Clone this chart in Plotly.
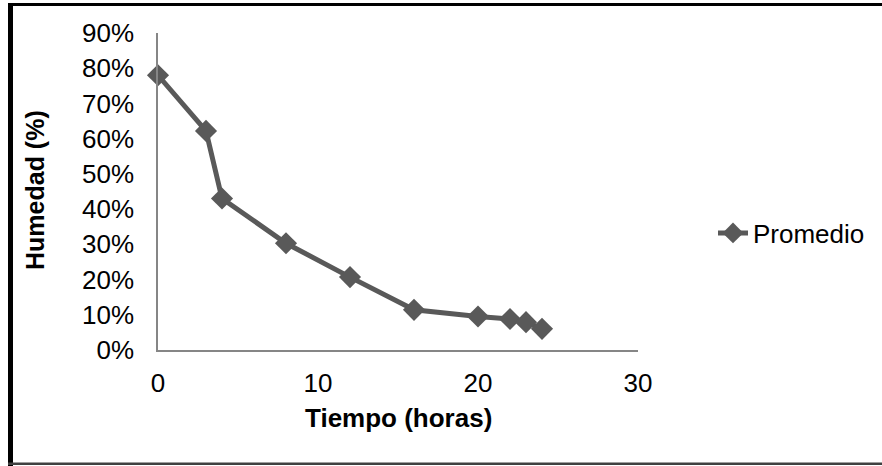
import plotly.graph_objects as go

tiempo = [0, 3, 4, 8, 12, 16, 20, 22, 23, 24]
humedad = [0.78, 0.622, 0.43, 0.303, 0.207, 0.114, 0.095, 0.088, 0.079, 0.06]
serie = "Promedio"
x_title = "Tiempo (horas)"
y_title = "Humedad (%)"

W, H = 882, 466
L, R, T, B = 158, 638, 33, 350
FONT = "Liberation Sans, Arial, sans-serif"

def px(x):
    return (x - L) / (R - L)

def py(y):
    return (B - y) / (B - T)

fig = go.Figure()
fig.add_trace(go.Scatter(
    x=tiempo, y=humedad, name=serie, mode="lines+markers", cliponaxis=False,
    line=dict(color="#595959", width=5),
    marker=dict(symbol="diamond", size=17, color="#595959"),
))

fig.update_layout(
    width=W, height=H,
    margin=dict(l=L, r=W - R, t=T, b=H - B),
    paper_bgcolor="white", plot_bgcolor="white",
    font=dict(family=FONT, size=26, color="black"),
    showlegend=True,
    legend=dict(x=px(713), y=py(233), xanchor="left", yanchor="middle",
                font=dict(size=26), itemwidth=30, bgcolor="rgba(0,0,0,0)"),
    xaxis=dict(range=[0, 30], tickvals=[0, 10, 20, 30], showgrid=False, zeroline=False,
               showline=True, linecolor="#868686", linewidth=1.5, ticks="",
               ticklabelstandoff=9, tickfont=dict(size=26)),
    yaxis=dict(range=[0, 0.9], tickvals=[i / 10 for i in range(10)], tickformat=".0%",
               showgrid=False, zeroline=False, showline=True, linecolor="#868686",
               linewidth=1.5, ticks="", ticklabelstandoff=17, tickfont=dict(size=26)),
    annotations=[
        dict(text="<b>" + x_title + "</b>", xref="paper", yref="paper",
             x=px(398), y=py(418), xanchor="center", yanchor="middle",
             showarrow=False, font=dict(size=26)),
        dict(text="<b>" + y_title + "</b>", xref="paper", yref="paper",
             x=px(35), y=py(190), xanchor="center", yanchor="middle",
             textangle=-90, showarrow=False, font=dict(size=25)),
    ],
    shapes=[
        dict(type="rect", xref="paper", yref="paper", x0=px(8), x1=px(13),
             y0=py(466), y1=py(3), fillcolor="black", line=dict(width=0)),
        dict(type="rect", xref="paper", yref="paper", x0=px(8), x1=px(882),
             y0=py(6), y1=py(3), fillcolor="black", line=dict(width=0)),
        dict(type="rect", xref="paper", yref="paper", x0=px(8), x1=px(882),
             y0=py(465), y1=py(462.5), fillcolor="#404040", line=dict(width=0)),
    ],
)

fig.write_html("out.html")
